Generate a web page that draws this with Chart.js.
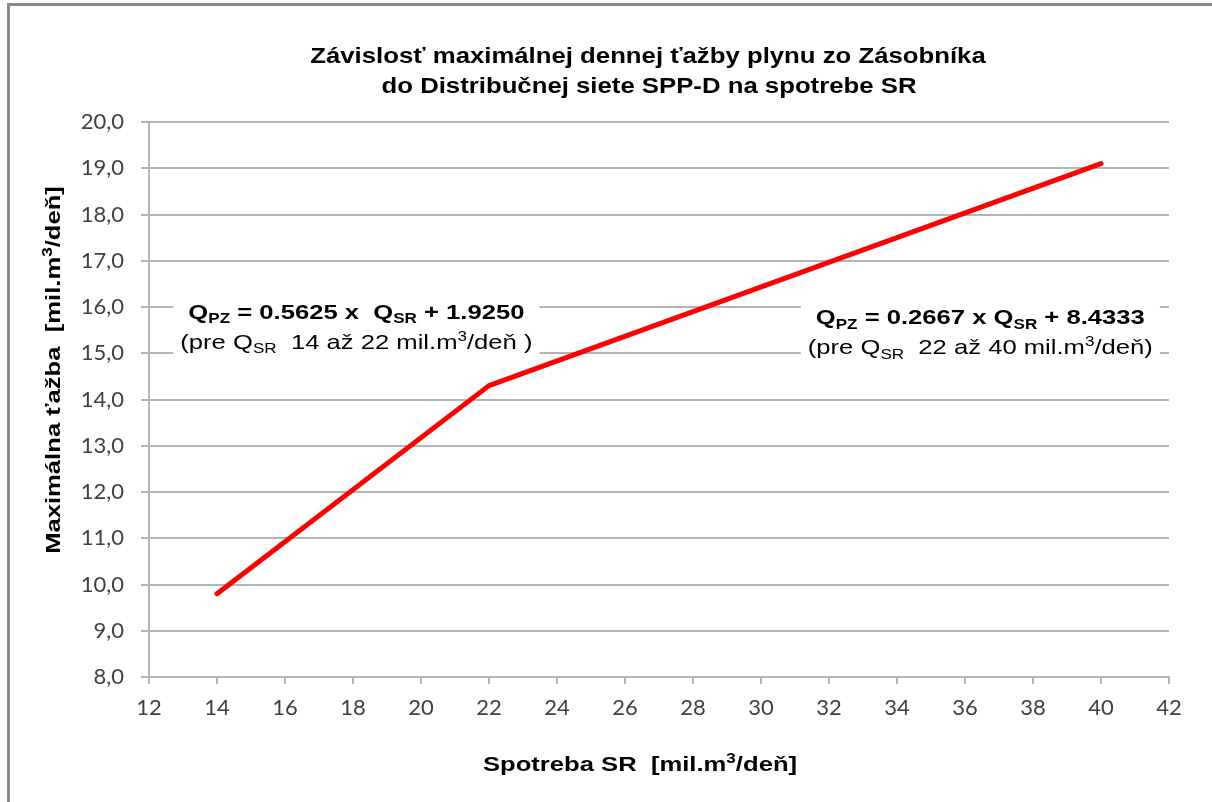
<!DOCTYPE html>
<html>
<head>
<meta charset="utf-8">
<script src="https://cdn.jsdelivr.net/npm/chart.js@4.4.1/dist/chart.umd.min.js"></script>
<style>
    html, body { margin: 0; padding: 0; background: #fff; }
    #wrap { width: 1212px; height: 802px; }
</style>
</head>
<body>
<div id="wrap"><canvas id="chart"></canvas></div>
<script>
// Data
const spotreba = [14, 22, 40];          // Q_SR [mil.m3/den]
const tazba = [9.8, 14.3, 19.1];        // Q_PZ [mil.m3/den]
const xTicks = [12, 14, 16, 18, 20, 22, 24, 26, 28, 30, 32, 34, 36, 38, 40, 42];
const yTicks = [8, 9, 10, 11, 12, 13, 14, 15, 16, 17, 18, 19, 20];

const titleLines = [
    [['Závislosť maximálnej dennej ťažby plynu zo Zásobníka', '']],
    [['do Distribučnej siete SPP-D na spotrebe SR', '']]
];
const xTitle = [['Spotreba SR  [mil.m', ''], ['3', 'p'], ['/deň]', '']];
const yTitle = [['Maximálna ťažba  [mil.m', ''], ['3', 'p'], ['/deň]', '']];

// equation labels: [x, y] anchor in data units, then two text lines
const eqLeft = {
    at: [18.1, 15.6],
    lines: [
        [['Q', ''], ['PZ', 's'], [' = 0.5625 x  Q', ''], ['SR', 's'], [' + 1.9250', '']],
        [['(pre Q', ''], ['SR', 's'], ['  14 až 22 mil.m', ''], ['3', 'p'], ['/deň )', '']]
    ]
};
const eqRight = {
    at: [36.45, 15.48],
    lines: [
        [['Q', ''], ['PZ', 's'], [' = 0.2667 x Q', ''], ['SR', 's'], [' + 8.4333', '']],
        [['(pre Q', ''], ['SR', 's'], ['  22 až 40 mil.m', ''], ['3', 'p'], ['/deň)', '']]
    ]
};

const gridColor = '#b4b4b4';
const tickColor = '#404040';
const sans = '"Liberation Sans", Arial, sans-serif';
const stretch = 1.22; // source text is a bit wider than Arial

function fontFor(kind, size, bold) {
    const s = kind === '' ? size : Math.round(size * 0.66);
    return (bold ? 'bold ' : '') + s + 'px ' + sans;
}

function richWidth(ctx, segs, size, bold) {
    let w = 0;
    segs.forEach(([t, k]) => {
        ctx.font = fontFor(k, size, bold);
        w += ctx.measureText(t).width;
    });
    return w;
}

function drawRich(ctx, segs, cx, baseY, size, bold, sx) {
    const w = richWidth(ctx, segs, size, bold);
    ctx.save();
    ctx.translate(cx - w * sx / 2, baseY);
    ctx.scale(sx, 1);
    ctx.textAlign = 'left';
    ctx.textBaseline = 'alphabetic';
    let x = 0;
    segs.forEach(([t, k]) => {
        ctx.font = fontFor(k, size, bold);
        let dy = 0;
        if (k === 's') dy = size * 0.22;
        if (k === 'p') dy = -size * 0.36;
        ctx.fillText(t, x, dy);
        x += ctx.measureText(t).width;
    });
    ctx.restore();
}

const textPlugin = {
    id: 'texts',
    beforeDatasetsDraw(chart) {
        const ctx = chart.ctx;
        const xs = chart.scales.x, ys = chart.scales.y;
        ctx.save();
        [eqLeft, eqRight].forEach(eq => {
            const cx = xs.getPixelForValue(eq.at[0]);
            const cy = ys.getPixelForValue(eq.at[1]);
            const w1 = richWidth(ctx, eq.lines[0], 21, true);
            const w2 = richWidth(ctx, eq.lines[1], 21, false);
            const w = Math.max(w1, w2) * stretch + 14;
            ctx.fillStyle = '#fff';
            ctx.fillRect(cx - w / 2, cy - 36, w, 72);
            ctx.fillStyle = '#000';
            drawRich(ctx, eq.lines[0], cx, cy - 7, 21, true, stretch);
            drawRich(ctx, eq.lines[1], cx, cy + 23, 21, false, stretch);
        });
        ctx.restore();
    },
    afterDraw(chart) {
        const ctx = chart.ctx;
        ctx.save();
        // frame
        ctx.strokeStyle = '#8a8a8a';
        ctx.lineWidth = 3;
        ctx.strokeRect(8.5, 4.5, 1400, 1000);
        // title
        ctx.fillStyle = '#000';
        drawRich(ctx, titleLines[0], 648, 63, 22, true, 1.17);
        drawRich(ctx, titleLines[1], 649, 93, 22, true, 1.17);
        // axis titles
        drawRich(ctx, xTitle, 640, 771, 21, true, stretch);
        ctx.translate(60, 370);
        ctx.rotate(-Math.PI / 2);
        drawRich(ctx, yTitle, 0, 0, 21, true, stretch);
        ctx.restore();
    }
};

const ctx = document.getElementById('chart').getContext('2d');
const chart = new Chart(ctx, {
    type: 'line',
    data: {
        datasets: [{
            label: 'Q_PZ',
            data: spotreba.map((x, i) => ({ x: x, y: tazba[i] })),
            borderColor: '#ff0000',
            borderWidth: 5,
            borderCapStyle: 'round',
            borderJoinStyle: 'round',
            pointRadius: 0,
            tension: 0
        }]
    },
    options: {
        responsive: true,
        maintainAspectRatio: false,
        animation: false,
        layout: {
            padding: { top: 122, right: 43, bottom: 0, left: 0 }
        },
        plugins: {
            legend: { display: false },
            tooltip: { enabled: false },
            title: { display: false }
        },
        scales: {
            x: {
                type: 'linear',
                min: xTicks[0],
                max: xTicks[xTicks.length - 1],
                afterBuildTicks: s => { s.ticks = xTicks.map(v => ({ value: v })); },
                afterFit: s => { s.height = 125; },
                grid: {
                    drawOnChartArea: false,
                    color: gridColor,
                    lineWidth: 2,
                    tickLength: 7
                },
                border: { color: gridColor, width: 2 },
                ticks: {
                    color: tickColor,
                    font: { family: 'Lato', size: 22 },
                    padding: 11,
                    maxRotation: 0
                }
            },
            y: {
                type: 'linear',
                min: yTicks[0],
                max: yTicks[yTicks.length - 1],
                afterBuildTicks: s => { s.ticks = yTicks.map(v => ({ value: v })); },
                afterFit: s => { s.width = 149; },
                grid: {
                    color: gridColor,
                    lineWidth: 2,
                    tickLength: 8
                },
                border: { color: gridColor, width: 2 },
                ticks: {
                    color: tickColor,
                    font: { family: 'Lato', size: 22 },
                    padding: 17,
                    callback: v => v.toFixed(1).replace('.', ',')
                }
            }
        }
    },
    plugins: [textPlugin]
});
</script>
</body>
</html>
